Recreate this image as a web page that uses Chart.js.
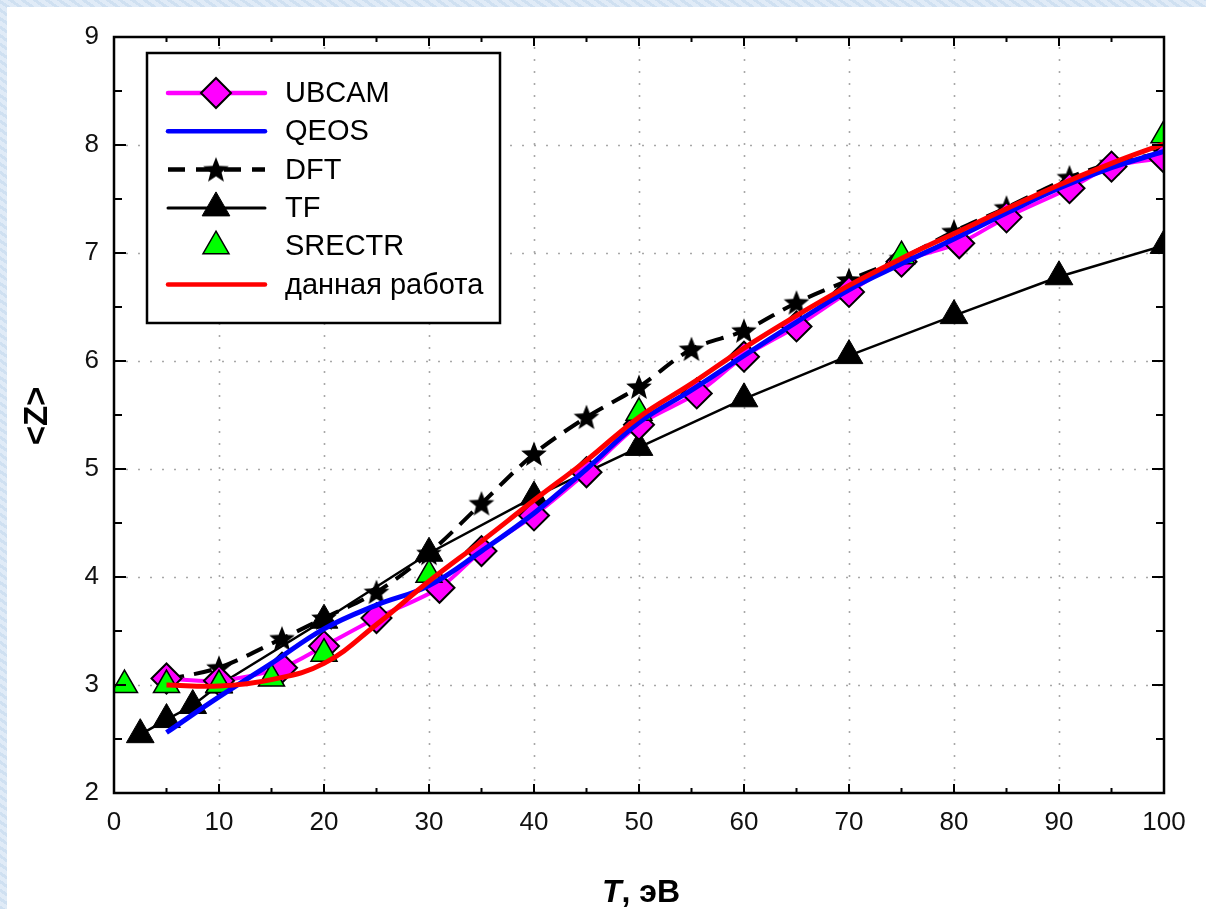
<!DOCTYPE html>
<html>
<head>
<meta charset="utf-8">
<script src="https://cdn.jsdelivr.net/npm/chart.js@4.4.1/dist/chart.umd.min.js"></script>
<style>
  html, body { margin: 0; padding: 0; }
  body {
    width: 1206px; height: 909px; position: relative; overflow: hidden;
    background: repeating-linear-gradient(35deg, #cfe0f1 0 3px, #e0ebf7 3px 7px);
  }
  #panel { position: absolute; left: 7px; top: 7px; right: 0; bottom: 0; background: #fff; }
  #myChart { position: absolute; left: 0; top: 0; }
</style>
</head>
<body>
<div id="panel"></div>
<canvas id="myChart" width="1206" height="909"></canvas>
<script>
// T, eV and <Z> for each model
var ubcamT = [5, 10, 16, 20, 25, 31, 35, 40, 45, 50, 55.5, 60, 65, 70, 75, 80.5, 85, 91, 95, 100]
var ubcamZ = [3.06, 3.04, 3.16, 3.36, 3.62, 3.9, 4.24, 4.57, 4.97, 5.41, 5.7, 6.04, 6.32, 6.64, 6.92, 7.09, 7.33, 7.6, 7.8, 7.88]

var qeosT = [5, 10, 15, 20, 25, 30, 35, 40, 45, 50, 55, 60, 65, 70, 75, 80, 85, 90, 95, 100]
var qeosZ = [2.56, 2.89, 3.2, 3.52, 3.74, 3.92, 4.24, 4.59, 5.0, 5.43, 5.73, 6.05, 6.36, 6.66, 6.9, 7.13, 7.37, 7.6, 7.79, 7.94]

var dftT = [5, 10, 16, 20, 25, 30, 35, 40, 45, 50, 55, 60, 65, 70, 75, 80, 85, 91, 95, 100]
var dftZ = [3.05, 3.16, 3.43, 3.62, 3.86, 4.22, 4.68, 5.14, 5.48, 5.76, 6.11, 6.28, 6.54, 6.75, 6.95, 7.2, 7.42, 7.7, 7.83, 7.93]

var tfT = [2.5, 5, 7.5, 10, 20, 30, 40, 50, 60, 70, 80, 90, 100]
var tfZ = [2.54, 2.68, 2.81, 3.0, 3.6, 4.22, 4.74, 5.2, 5.65, 6.05, 6.42, 6.78, 7.07]

var srectrT = [1, 5, 10, 15, 20, 30, 50, 75, 100]
var srectrZ = [3.0, 3.0, 3.0, 3.06, 3.29, 4.02, 5.52, 6.97, 8.09]

var workT = [5, 10, 15, 20, 25, 30, 35, 40, 45, 50, 55, 60, 65, 70, 75, 80, 85, 90, 95, 100]
var workZ = [3.0, 2.99, 3.05, 3.2, 3.56, 3.96, 4.33, 4.71, 5.08, 5.48, 5.79, 6.12, 6.42, 6.7, 6.95, 7.18, 7.41, 7.63, 7.83, 8.01]

var xTicks = [0, 10, 20, 30, 40, 50, 60, 70, 80, 90, 100]
var yTicks = [2, 3, 4, 5, 6, 7, 8, 9]

var FONT = "'Liberation Sans', Arial, sans-serif"

function pts(xs, ys) {
    return xs.map(function(x, i) { return {x: x, y: ys[i]} })
}

// filled five point star used as the DFT marker
function makeStar() {
    var c = document.createElement('canvas')
    c.width = 30; c.height = 30
    var g = c.getContext('2d')
    g.beginPath()
    for (var i = 0; i < 10; i++) {
        var r = i % 2 ? 5.8 : 13.5
        var a = -Math.PI / 2 + i * Math.PI / 5
        g.lineTo(15 + r * Math.cos(a), 16 + r * Math.sin(a))
    }
    g.closePath()
    g.fillStyle = '#000'
    g.fill()
    return c
}
var star = makeStar()

var datasets = [
    {
        label: 'UBCAM', data: pts(ubcamT, ubcamZ), order: 3,
        borderColor: '#ff00ff', borderWidth: 4,
        pointStyle: 'rectRot', pointRadius: 15, pointBackgroundColor: '#ff00ff',
        pointBorderColor: '#000', pointBorderWidth: 2, tension: 0.3
    },
    {
        label: 'QEOS', data: pts(qeosT, qeosZ), order: 1,
        borderColor: '#0000ff', borderWidth: 5, pointRadius: 0, tension: 0.4
    },
    {
        label: 'DFT', data: pts(dftT, dftZ), order: 4,
        borderColor: '#000', borderWidth: 4, borderDash: [18, 10],
        pointStyle: star, pointRadius: 12, tension: 0.3
    },
    {
        label: 'TF', data: pts(tfT, tfZ), order: 5,
        borderColor: '#000', borderWidth: 2.5,
        pointStyle: 'triangle', pointRadius: 16, pointBackgroundColor: '#000',
        pointBorderColor: '#000', pointBorderWidth: 1
    },
    {
        label: 'SRECTR', data: pts(srectrT, srectrZ), order: 2, showLine: false,
        pointStyle: 'triangle', pointRadius: 15, pointBackgroundColor: '#00ff00',
        pointBorderColor: '#000', pointBorderWidth: 1.5
    },
    {
        label: 'данная работа', data: pts(workT, workZ), order: 0,
        borderColor: '#ff0000', borderWidth: 5, pointRadius: 0, tension: 0.4
    }
]

/*
 Frame, dotted grid, inward ticks, axis titles and the boxed legend
*/
var decor = {
    id: 'decor',
    beforeDatasetsDraw: function(chart) {
        var ctx = chart.ctx, a = chart.chartArea
        var xs = chart.scales.x, ys = chart.scales.y
        ctx.save()
        ctx.strokeStyle = '#a8a8a8'
        ctx.lineWidth = 1.6
        ctx.setLineDash([2, 10])
        xTicks.slice(1, -1).forEach(function(v) {
            var px = Math.round(xs.getPixelForValue(v)) + 0.5
            ctx.beginPath(); ctx.moveTo(px, a.bottom); ctx.lineTo(px, a.top); ctx.stroke()
        })
        yTicks.slice(1, -1).forEach(function(v) {
            var py = Math.round(ys.getPixelForValue(v)) + 0.5
            ctx.beginPath(); ctx.moveTo(a.left, py); ctx.lineTo(a.right, py); ctx.stroke()
        })
        ctx.restore()
    },
    afterDatasetsDraw: function(chart) {
        var ctx = chart.ctx, a = chart.chartArea
        var xs = chart.scales.x, ys = chart.scales.y
        ctx.save()
        ctx.strokeStyle = '#000'
        ctx.lineWidth = 2.5
        ctx.strokeRect(a.left, a.top, a.right - a.left, a.bottom - a.top)
        ctx.lineWidth = 2
        for (var t = 5; t < 100; t += 5) {
            var px = xs.getPixelForValue(t)
            var len = t % 10 ? 5 : 9
            ctx.beginPath()
            ctx.moveTo(px, a.bottom); ctx.lineTo(px, a.bottom - len)
            ctx.moveTo(px, a.top); ctx.lineTo(px, a.top + len)
            ctx.stroke()
        }
        for (var z = 2.5; z < 9; z += 0.5) {
            var py = ys.getPixelForValue(z)
            var l2 = (z % 1) ? 8 : 12
            ctx.beginPath()
            ctx.moveTo(a.left, py); ctx.lineTo(a.left + l2, py)
            ctx.moveTo(a.right, py); ctx.lineTo(a.right - l2, py)
            ctx.stroke()
        }
        ctx.restore()
    },
    afterDraw: function(chart) {
        var ctx = chart.ctx, a = chart.chartArea
        ctx.save()
        ctx.fillStyle = '#000'

        // y title
        ctx.save()
        ctx.translate(38, 416)
        ctx.rotate(-Math.PI / 2)
        ctx.font = 'bold 33px ' + FONT
        ctx.textAlign = 'center'
        ctx.textBaseline = 'middle'
        ctx.fillText('<Z>', 0, 0)
        ctx.restore()

        // x title, italic T
        ctx.textBaseline = 'alphabetic'
        ctx.textAlign = 'left'
        var fT = 'italic bold 32px ' + FONT, fR = 'bold 32px ' + FONT
        ctx.font = fT
        var wT = ctx.measureText('T').width
        ctx.font = fR
        var wR = ctx.measureText(', эВ').width
        var x0 = (a.left + a.right) / 2 - (wT + wR) / 2 + 2
        ctx.font = fT
        ctx.fillText('T', x0, 902)
        ctx.font = fR
        ctx.fillText(', эВ', x0 + wT, 902)

        // legend box
        var bx = 147, by = 53, bw = 353, bh = 270
        ctx.fillStyle = '#fff'
        ctx.fillRect(bx, by, bw, bh)
        ctx.strokeStyle = '#000'
        ctx.lineWidth = 2.5
        ctx.strokeRect(bx, by, bw, bh)
        ctx.font = '29px ' + FONT
        ctx.textBaseline = 'middle'
        chart.data.datasets.forEach(function(ds, i) {
            var y = 93 + i * 38.3
            if (ds.showLine !== false) {
                ctx.save()
                ctx.strokeStyle = ds.borderColor
                ctx.lineWidth = ds.borderWidth == 2.5 ? 3 : 4.5
                ctx.lineCap = 'round'
                if (ds.borderDash) { ctx.setLineDash([17, 11]); ctx.lineCap = 'butt' }
                ctx.beginPath(); ctx.moveTo(168, y); ctx.lineTo(265, y); ctx.stroke()
                ctx.restore()
            }
            if (ds.pointRadius) {
                ctx.save()
                ctx.fillStyle = ds.pointBackgroundColor || '#000'
                ctx.strokeStyle = ds.pointBorderColor || '#000'
                ctx.lineWidth = ds.pointBorderWidth || 1
                Chart.helpers.drawPoint(ctx, {
                    pointStyle: ds.pointStyle, radius: ds.pointRadius, rotation: 0,
                    borderWidth: ds.pointBorderWidth || 1
                }, 216, y)
                ctx.restore()
            }
            ctx.fillStyle = '#000'
            ctx.fillText(ds.label, 285, y + 1)
        })
        ctx.restore()
    }
}

var ctx = document.getElementById('myChart')
var myChart = new Chart(ctx, {
    type: 'line',
    data: {datasets: datasets},
    options: {
        responsive: false,
        animation: false,
        layout: {padding: {left: 0, top: 37, right: 42, bottom: 0}},
        plugins: {legend: {display: false}, tooltip: {enabled: false}},
        scales: {
            x: {
                type: 'linear', min: 0, max: 100,
                grid: {display: false, drawTicks: false}, border: {display: false},
                ticks: {stepSize: 10, padding: 14, color: '#111', maxRotation: 0, autoSkip: false,
                        font: {family: FONT, size: 26}},
                afterFit: function(s) { s.height = 116 }
            },
            y: {
                min: 2, max: 9,
                grid: {display: false, drawTicks: false}, border: {display: false},
                ticks: {stepSize: 1, padding: 15, color: '#111', font: {family: FONT, size: 26}},
                afterFit: function(s) { s.width = 114 }
            }
        }
    },
    plugins: [decor]
});
</script>
</body>
</html>
